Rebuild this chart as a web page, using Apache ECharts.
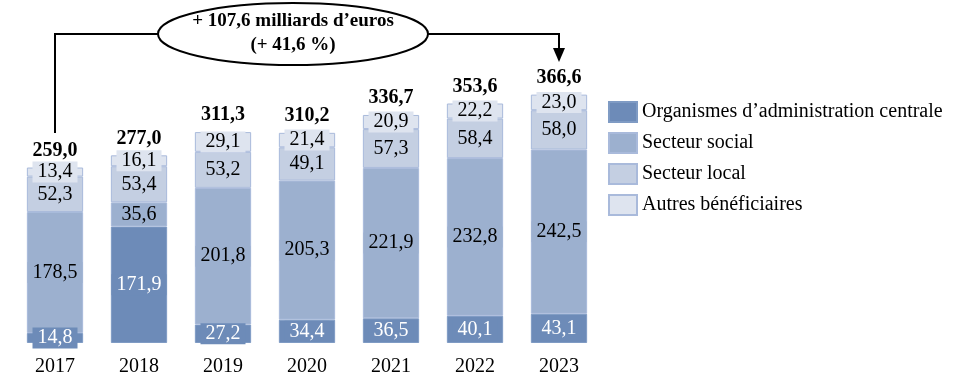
<!DOCTYPE html>
<html><head><meta charset="utf-8">
<script src="https://cdn.jsdelivr.net/npm/echarts@6/dist/echarts.min.js"></script>
<style>html,body{margin:0;padding:0;background:#fff}#c{width:973px;height:390px}</style>
</head><body><div id="c"></div>
<script>
const years = ['2017','2018','2019','2020','2021','2022','2023'];
const central = [14.8,171.9,27.2,34.4,36.5,40.1,43.1];
const social = [178.5,35.6,201.8,205.3,221.9,232.8,242.5];
const local = [52.3,53.4,53.2,49.1,57.3,58.4,58.0];
const autres = [13.4,16.1,29.1,21.4,20.9,22.2,23.0];
const totals = [259.0,277.0,311.3,310.2,336.7,353.6,366.6];
const names = ["Organismes d\u2019administration centrale","Secteur social","Secteur local","Autres b\u00e9n\u00e9ficiaires"];
const colors = ['#6d8bb8','#9cb0cf','#c4cfe2','#dee4ef'];
const FONT = '"Liberation Serif", serif';
const fmt = v => v.toFixed(1).replace('.', ',');

const chart = echarts.init(document.getElementById('c'));
function seg(i, data, textColor){
  return {
    name: names[i], type:'bar', stack:'t', data: data, barWidth: '67%',
    itemStyle:{color: colors[i], borderColor: i===0 ? '#7f9bc4' : '#a9badb', borderWidth: 1},
    label:{show:true, position:'inside', formatter: p => fmt(p.value), color: textColor,
      fontFamily: FONT, fontSize: 20, lineHeight: 20, backgroundColor: colors[i], padding:[1,5,0,5]},
    emphasis:{disabled:true}
  };
}
const option = {
  animation:false,
  grid:{left:13, right:372, top:72, bottom:47},
  legend:{orient:'vertical', left:603, top:96, icon:'rect', itemWidth:28, itemHeight:20, itemGap:9,
    data:names, textStyle:{fontFamily:FONT, fontSize:20, lineHeight:20, color:'#000'}, selectedMode:false},
  xAxis:{type:'category', data:years, axisLine:{show:false}, axisTick:{show:false},
    axisLabel:{fontFamily:FONT, fontSize:20, color:'#000', margin:14}},
  yAxis:{type:'value', min:0, max:400, show:false, splitLine:{show:false}},
  series:[
    seg(0, central, '#fff'), seg(1, social, '#000'), seg(2, local, '#000'), seg(3, autres, '#000'),
    {name:'total', type:'bar', stack:'t', data: totals.map(()=>0), itemStyle:{color:'transparent'},
     label:{show:true, position:'top', distance:7, formatter: p => fmt(totals[p.dataIndex]),
       fontFamily:FONT, fontSize:20, fontWeight:'bold', color:'#000'}}
  ]
};
chart.setOption(option);

const p0 = chart.convertToPixel({xAxisIndex:0, yAxisIndex:0}, [0, 0]);
const pLast = chart.convertToPixel({xAxisIndex:0, yAxisIndex:0}, [years.length-1, 0]);
const x0 = p0[0], x1 = pLast[0];
const yLine = 34, cx = 293, rx = 135, ry = 31;
chart.setOption({graphic:[
  {type:'polyline', shape:{points:[[cx-rx, yLine],[x0, yLine],[x0, 133]]}, style:{stroke:'#000', lineWidth:2, fill:null}},
  {type:'polyline', shape:{points:[[cx+rx, yLine],[x1, yLine],[x1, 50]]}, style:{stroke:'#000', lineWidth:2, fill:null}},
  {type:'polygon', shape:{points:[[x1-6, 48],[x1+6, 48],[x1, 62]]}, style:{fill:'#000'}},
  {type:'ellipse', shape:{cx:cx, cy:yLine, rx:rx, ry:ry}, style:{fill:'#fff', stroke:'#000', lineWidth:2}},
  {type:'text', x:cx, y:21, style:{text:'+ 107,6 milliards d\u2019euros', font:'bold 19px '+FONT, fill:'#000', align:'center', verticalAlign:'middle'}},
  {type:'text', x:cx, y:45, style:{text:'(+ 41,6 %)', font:'bold 19px '+FONT, fill:'#000', align:'center', verticalAlign:'middle'}}
]});
</script></body></html>
